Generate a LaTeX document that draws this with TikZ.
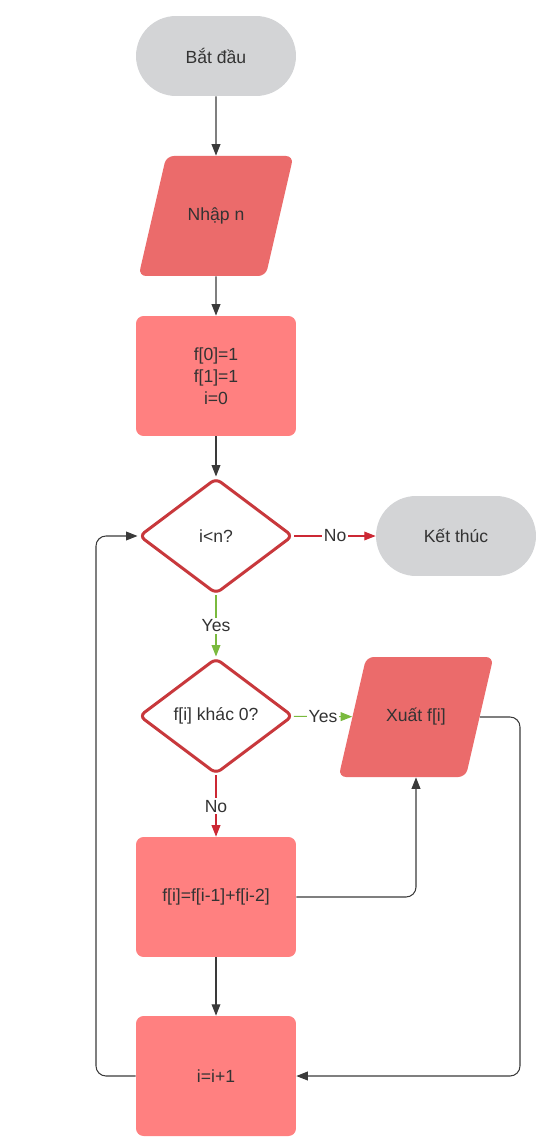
\documentclass[tikz,border=0pt]{standalone}
\usepackage{fontspec}
\setmainfont{Liberation Sans}
\usetikzlibrary{shapes.geometric,arrows.meta}
\definecolor{termgray}{RGB}{211,212,214}
\definecolor{iored}{RGB}{235,107,107}
\definecolor{procred}{RGB}{255,128,128}
\definecolor{decred}{RGB}{200,56,60}
\definecolor{nored}{RGB}{204,40,52}
\definecolor{yesgreen}{RGB}{122,186,62}
\definecolor{linegray}{RGB}{58,58,58}
\definecolor{txtgray}{RGB}{51,51,51}
\begin{document}
\begin{tikzpicture}[x=0.02cm,y=-0.02cm,
  font=\fontsize{10}{12.5}\selectfont, text=txtgray,
  terminal/.style={fill=termgray,rounded corners=0.8cm,minimum width=3.2cm,minimum height=1.6cm},
  process/.style={fill=procred,rounded corners=0.15cm,minimum width=3.2cm,minimum height=2.4cm,align=center},
  io/.style={trapezium,trapezium left angle=77,trapezium right angle=103,
    fill=iored,rounded corners=0.15cm,text width=48pt,align=flush center,
    text height=7pt,text depth=2pt,inner xsep=4.3pt,inner ysep=29.65pt},
  decision/.style={diamond,draw=decred,line width=1.7pt,fill=white,rounded corners=0.12cm,
    minimum width=3.08cm,minimum height=2.32cm,inner sep=0pt},
  flow/.style={-{Triangle[length=6.5pt,width=5pt]},line width=0.6pt,draw=linegray},
  lbl/.style={fill=white,inner sep=1pt}]
  % Frame
  \useasboundingbox (0,0) rectangle (546,1145);
  % Main column
  \node[terminal] (start) at (216,56) {Bắt đầu};
  \node[io] (input) at (216,216) {Nhập n};
  \node[process] (init) at (216,376) {f[0]=1\\f[1]=1\\i=0};
  \node[decision] (cond) at (216,536) {i<n?};
  \node[decision] (check) at (216,716) {f[i] khác 0?};
  \node[process] (calc) at (216,897) {f[i]=f[i-1]+f[i-2]};
  \node[process] (incr) at (216,1076) {i=i+1};
  % Right column
  \node[terminal] (stop) at (456,536) {Kết thúc};
  \node[io] (output) at (416,717) {Xuất f[i]};
  % Bends of the loops
  \coordinate (rbend) at (520,717);
  \coordinate (lbend) at (96,1076);
  % Straight arrows
  \draw[flow] (start) -- (input);
  \draw[flow] (input) -- (init);
  \draw[flow] (init) -- (cond);
  \draw[flow] (calc) -- (incr);
  % Decisions
  \draw[flow,draw=nored] (cond) -- node[lbl] {No} (stop);
  \draw[flow,draw=yesgreen] (cond) -- node[lbl] {Yes} (check);
  \draw[flow,draw=yesgreen] (check) -- node[lbl] {Yes} (output);
  \draw[flow,draw=nored] (check) -- node[lbl] {No} (calc);
  % Loops
  \draw[flow,rounded corners=0.2cm] (calc.east) -| (output.south);
  \draw[flow,rounded corners=0.2cm] (output.east) -- (rbend) |- (incr.east);
  \draw[flow,rounded corners=0.2cm] (incr.west) -- (lbend) |- (cond.west);
\end{tikzpicture}
\end{document}
